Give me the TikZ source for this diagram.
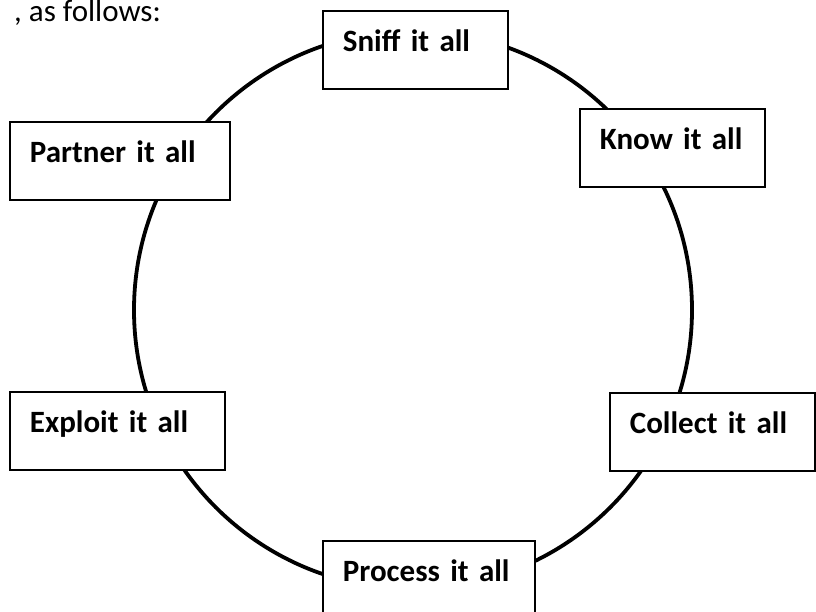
\documentclass[tikz,border=0pt]{standalone}
\usepackage{fontspec}
\setmainfont{Carlito}
\usepackage{tikz}
\usetikzlibrary{calc,positioning}

\begin{document}
\begin{tikzpicture}[
  x=1pt,y=-1pt,
  ring/.style={draw=black,line width=3.8pt},
  stage/.style={draw=black,fill=white,line width=1.8pt,anchor=north west,
    inner xsep=20pt,inner ysep=0pt,align=left,text height=41pt,
    text depth=37pt,font=\bfseries\fontsize{31}{36}\selectfont},
  prose/.style={inner sep=0pt,anchor=base west,
    font=\fontsize{31}{36}\selectfont}
]
\useasboundingbox (0,0) rectangle (816,612);

% the cycle runs behind the six boxes
\coordinate (hub) at (413,310);
\draw[ring] (hub) circle[radius=279];

\node[prose] (lead) at (14,22) {, as follows:};

\node[stage,text width=145pt] (sniff)    at (322,10)  {Sniff it all};
\node[stage,text width=145pt] (know)     at (579,108) {Know it all};
\node[stage,text width=165pt] (collect)  at (609,392) {Collect it all};
\node[stage,text width=172pt] (process)  at (322,540) {Process it all};
\node[stage,text width=175pt] (exploit)  at (9,391)   {Exploit it all};
\node[stage,text width=180pt] (partner)  at (9,121)   {Partner it all};

\end{tikzpicture}
\end{document}
